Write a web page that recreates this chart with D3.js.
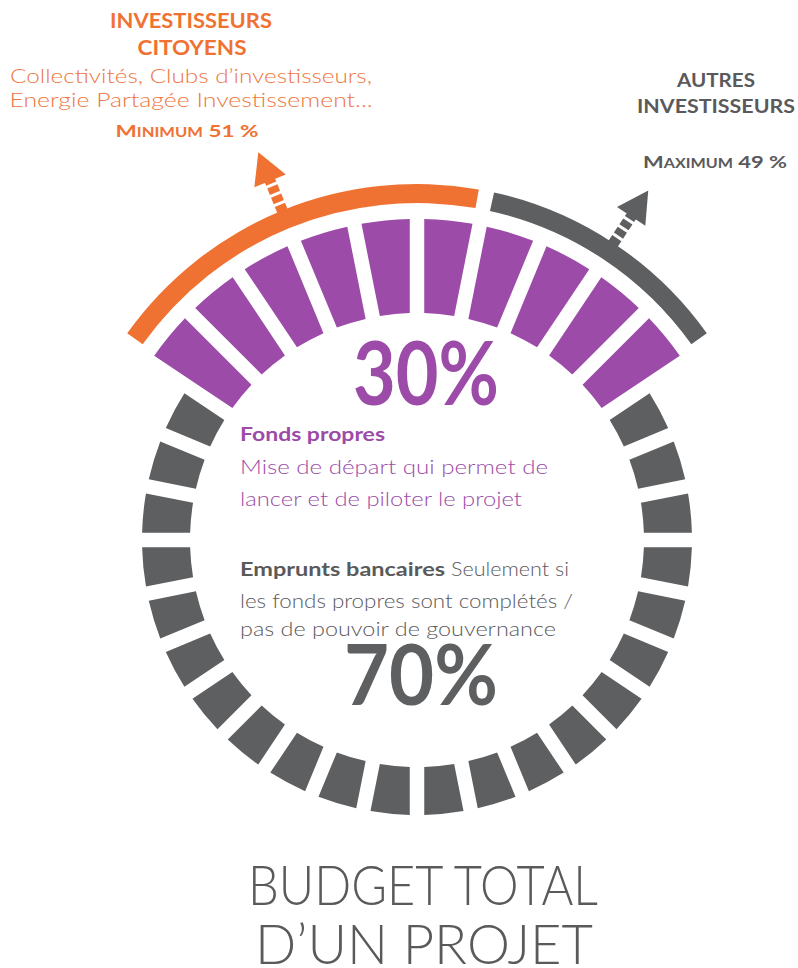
<!DOCTYPE html>
<html>
<head>
<meta charset="utf-8">
<script src="https://cdn.jsdelivr.net/npm/d3@7"></script>
<style>
  body { margin: 0; background: #fff; }
  svg { display: block; }
</style>
</head>
<body>
<svg id="chart"></svg>
<script>
/// DATA ///
var fundTypes = ["Fonds propres", "Emprunts bancaires"];
var fundShares = [30, 70];
var fundBlocks = [10, 22];
var investorGroups = ["INVESTISSEURS CITOYENS", "AUTRES INVESTISSEURS"];
var investorShares = [51, 49];
var investorBounds = ["MINIMUM", "MAXIMUM"];

var COLOR = {
  PURPLE: "#9c4ba8",
  ORANGE: "#f07232",
  GRAY: "#5e5f61",
  TEXT_GRAY: "#5a5a5c",
  TEXT_ORANGE: "#ef7640"
};

var width = 798, height = 968;
var cx = 417, cy = 540;
var deg = Math.PI / 180;

var svg = d3.select("#chart").attr("width", width).attr("height", height);
svg.append("rect").attr("width", width).attr("height", height).attr("fill", "#fff");

var ring = svg.append("g").attr("transform", "translate(" + cx + "," + cy + ")");

// blocks of the ring: purple ones first, centred on the top
var totalBlocks = d3.sum(fundBlocks);
var blocks = [];
fundBlocks.forEach(function (n, k) {
  d3.range(n).forEach(function () { blocks.push({ type: k }); });
});
var step = 2 * Math.PI / totalBlocks;
var angle = d3.scaleBand()
  .domain(d3.range(totalBlocks))
  .range([-fundBlocks[0] / 2 * step, 2 * Math.PI - fundBlocks[0] / 2 * step]);

var blockArc = d3.arc()
  .innerRadius(227)
  .outerRadius(function (d) { return d.type == 0 ? 321 : 275; })
  .startAngle(function (d, i) { return angle(i); })
  .endAngle(function (d, i) { return angle(i) + angle.bandwidth(); })
  .padRadius(100)
  .padAngle(0.145);

ring.selectAll(".block")
  .data(blocks)
  .enter()
  .append("path")
  .attr("class", "block")
  .attr("d", blockArc)
  .attr("fill", function (d) { return d.type == 0 ? COLOR.PURPLE : COLOR.GRAY; });

// investor arcs over the purple part
var investorArcs = [
  { start: -54.5, end: 10, color: COLOR.ORANGE, share: investorShares[0] },
  { start: 12.5, end: 54.5, color: COLOR.GRAY, share: investorShares[1] }
];
var bandArc = d3.arc()
  .innerRadius(337)
  .outerRadius(356)
  .startAngle(function (d) { return d.start * deg; })
  .endAngle(function (d) { return d.end * deg; });

ring.selectAll(".investor")
  .data(investorArcs)
  .enter()
  .append("path")
  .attr("class", "investor")
  .attr("d", bandArc)
  .attr("fill", function (d) { return d.color; });

// arrows pointing out of the middle of each arc
var arrows = ring.selectAll(".arrow")
  .data(investorArcs)
  .enter()
  .append("g")
  .attr("class", "arrow")
  .attr("transform", function (d) { return "rotate(" + (d.start + d.end) / 2 + ")"; });

arrows.append("line")
  .attr("x1", 0).attr("y1", -355)
  .attr("x2", 0).attr("y2", -390)
  .attr("stroke", function (d) { return d.color; })
  .attr("stroke-width", 11)
  .attr("stroke-dasharray", "7,3");

arrows.append("path")
  .attr("d", "M-17,-388 L17,-388 L0,-419 Z")
  .attr("fill", function (d) { return d.color; });

// HELPER FUNCTION: text line
function line(x, y, str, o) {
  var t = svg.append("text")
    .attr("x", x).attr("y", y)
    .attr("font-family", o.family || "Lato, 'Open Sans', sans-serif")
    .attr("font-size", o.size)
    .attr("font-weight", o.weight || 300)
    .attr("fill", o.color)
    .attr("text-anchor", o.anchor || "start")
    .text(str);
  if (o.len) t.attr("textLength", o.len).attr("lengthAdjust", "spacingAndGlyphs");
  return t;
}

// small caps line like "MINIMUM 51 %"
function smallCaps(x, y, word, share, color, len) {
  var t = svg.append("text")
    .attr("x", x).attr("y", y)
    .attr("font-family", "Lato, sans-serif")
    .attr("font-weight", 700)
    .attr("fill", color)
    .attr("text-anchor", "middle")
    .attr("textLength", len)
    .attr("lengthAdjust", "spacingAndGlyphs");
  t.append("tspan").attr("font-size", 17).text(word.charAt(0));
  t.append("tspan").attr("font-size", 12.5).text(word.slice(1));
  t.append("tspan").attr("font-size", 17).text(" " + share + " %");
}

// top left: citizen investors
var leftWords = investorGroups[0].split(" ");
line(191, 28, leftWords[0], { size: 20, weight: 700, color: COLOR.ORANGE, anchor: "middle", len: 162 });
line(192, 55, leftWords[1], { size: 20, weight: 700, color: COLOR.ORANGE, anchor: "middle", len: 109 });
line(191, 83, "Collectivités, Clubs d’investisseurs,", { size: 20, color: COLOR.TEXT_ORANGE, anchor: "middle", len: 362 });
line(191, 107, "Energie Partagée Investissement...", { size: 20, color: COLOR.TEXT_ORANGE, anchor: "middle", len: 363 });
smallCaps(187, 137, investorBounds[0], investorShares[0], COLOR.ORANGE, 143);

// top right: other investors
var rightWords = investorGroups[1].split(" ");
line(716, 87, rightWords[0], { size: 19, weight: 700, color: COLOR.TEXT_GRAY, anchor: "middle", len: 78 });
line(716, 113, rightWords[1], { size: 19, weight: 700, color: COLOR.TEXT_GRAY, anchor: "middle", len: 158 });
smallCaps(715, 168, investorBounds[1], investorShares[1], COLOR.TEXT_GRAY, 144);

// centre texts
line(426, 405, fundShares[0] + "%", { size: 88, weight: 700, color: COLOR.PURPLE, anchor: "middle", len: 146 });
line(240, 441, fundTypes[0], { size: 19, weight: 700, color: COLOR.PURPLE, len: 145 });
line(240, 474, "Mise de départ qui permet de", { size: 20, color: COLOR.PURPLE, len: 308 });
line(240, 506, "lancer et de piloter le projet", { size: 20, color: COLOR.PURPLE, len: 282 });
line(240, 576, fundTypes[1], { size: 19, weight: 700, color: COLOR.TEXT_GRAY, len: 205 });
line(451, 576, "Seulement si", { size: 20, color: COLOR.TEXT_GRAY, len: 118 });
line(240, 608, "les fonds propres sont complétés /", { size: 20, color: COLOR.TEXT_GRAY, len: 333 });
line(240, 636, "pas de pouvoir de gouvernance", { size: 20, color: COLOR.TEXT_GRAY, len: 316 });
line(421, 705, fundShares[1] + "%", { size: 84, weight: 700, color: COLOR.GRAY, anchor: "middle", len: 154 });

// bottom title
line(423, 905, "BUDGET TOTAL", { size: 55, weight: 300, color: COLOR.TEXT_GRAY, anchor: "middle", len: 350 });
line(424, 964, "D’UN PROJET", { size: 55, weight: 300, color: COLOR.TEXT_GRAY, anchor: "middle", len: 338 });
</script>
</body>
</html>
